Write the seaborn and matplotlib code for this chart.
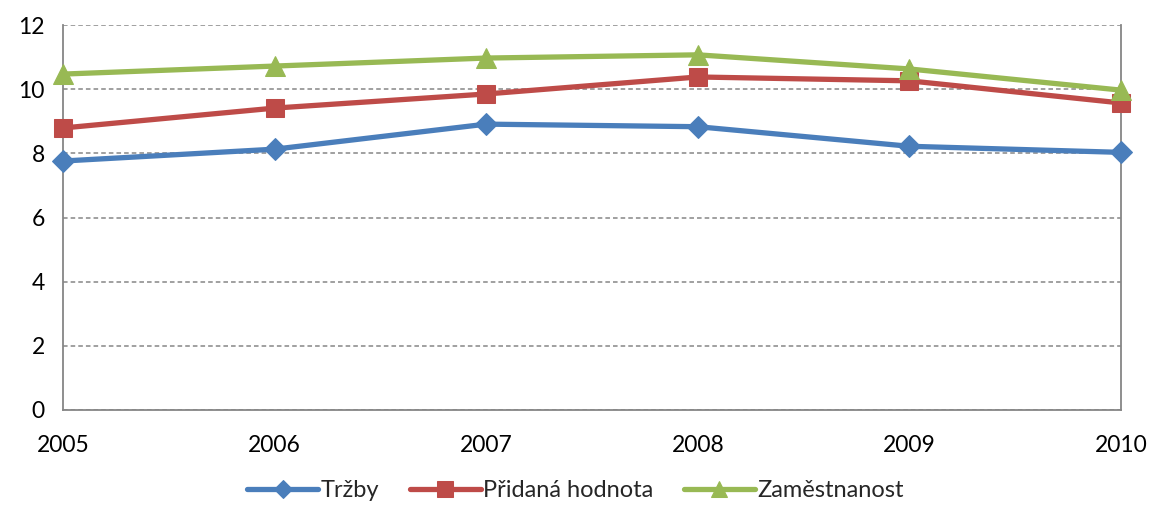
import matplotlib
matplotlib.use("Agg")
import matplotlib.pyplot as plt
import seaborn as sns
import pandas as pd

years = [2005, 2006, 2007, 2008, 2009, 2010]
trzby = [7.76, 8.13, 8.91, 8.83, 8.22, 8.03]
pridana = [8.79, 9.41, 9.85, 10.38, 10.26, 9.57]
zamest = [10.47, 10.72, 10.97, 11.07, 10.63, 9.97]
series_names = ["Tržby", "Přidaná hodnota", "Zaměstnanost"]
y_ticks = [0, 2, 4, 6, 8, 10, 12]

sns.set_style("white")
plt.rcParams['font.family'] = ['Lato', 'DejaVu Sans']

df = pd.DataFrame({
    "year": years * 3,
    "value": trzby + pridana + zamest,
    "series": [series_names[0]] * 6 + [series_names[1]] * 6 + [series_names[2]] * 6,
})

colors = ["#4A7EBB", "#BE4B48", "#98B954"]
markers = ["D", "s", "^"]
msizes = [11, 13, 14]

fig = plt.figure(figsize=(11.51, 5.12), dpi=100)
ax = fig.add_axes([63/1151, 1 - 410/512, (1121 - 63)/1151, (410 - 25)/512])

for name, c, m, ms in zip(series_names, colors, markers, msizes):
    sub = df[df["series"] == name]
    sns.lineplot(data=sub, x="year", y="value", ax=ax, color=c, marker=m,
                 markersize=ms, markeredgecolor=c, linewidth=3.8, label=name,
                 zorder=3, clip_on=False)

ax.set_xlim(2005, 2010)
ax.set_ylim(0, 12)
ax.set_xticks(years)
ax.set_xticklabels([str(y) for y in years])
ax.set_yticks(y_ticks)
ax.set_xlabel("")
ax.set_ylabel("")
gc = "#868686"
ax.yaxis.grid(True, color=gc, linestyle=(0, (3, 2)), linewidth=1.1)
ax.xaxis.grid(False)
for s in ["left", "bottom", "right"]:
    ax.spines[s].set_color(gc)
    ax.spines[s].set_linewidth(1.3)
ax.spines["top"].set_visible(False)
ax.tick_params(axis="both", which="both", direction="out", length=7, color=gc,
               width=1.3, labelsize=16.5, labelcolor="black")
ax.tick_params(axis="x", pad=11)
ax.tick_params(axis="y", pad=6)

ax.get_legend().remove()
handles, labels = ax.get_legend_handles_labels()
fig.legend(handles, labels, loc="lower center", bbox_to_anchor=(0.5, -0.02),
           ncol=3, frameon=False, fontsize=17, handlelength=3.0,
           handletextpad=0.1, columnspacing=1.3, markerscale=0.85)

fig.savefig("out.png", dpi=100)
